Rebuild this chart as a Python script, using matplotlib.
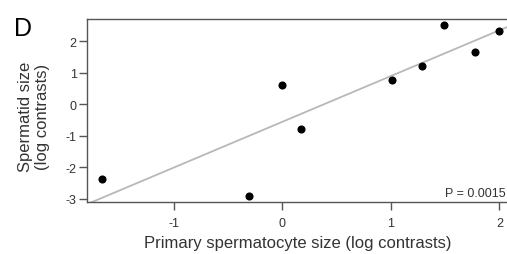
import matplotlib
matplotlib.use("Agg")
import matplotlib.pyplot as plt
import numpy as np

plt.rcParams['font.family'] = ['Liberation Sans', 'DejaVu Sans']

# Data
primary_size = [-1.66, -0.31, 0.00, 0.17, 1.01, 1.29, 1.49, 1.78, 2.00]
spermatid_size = [-2.38, -2.91, 0.60, -0.78, 0.78, 1.22, 2.52, 1.67, 2.32]
fit_slope = 1.455
fit_intercept = -0.56
x_ticks = [-1, 0, 1, 2]
y_ticks = [-3, -2, -1, 0, 1, 2]
p_text = "P = 0.0015"

W, H = 507, 255
fig = plt.figure(figsize=(W/100, H/100), dpi=100)
ax = fig.add_axes([87/W, 1-203/H, 421/W, 183/H])

xlim = (-1.80, 2.08)
ylim = (-3.11, 2.71)
ax.set_xlim(*xlim)
ax.set_ylim(*ylim)

xl = np.array(xlim)
ax.plot(xl, fit_intercept + fit_slope * xl, color='#b8b8b8', lw=1.3, zorder=1)
ax.scatter(primary_size, spermatid_size, s=34, color='black', zorder=3, linewidths=0)

ax.set_xticks(x_ticks)
ax.set_xticklabels([str(v) for v in x_ticks])
ax.set_yticks(y_ticks)
ax.set_yticklabels([str(v) for v in y_ticks])

for s in ax.spines.values():
    s.set_color('#555555')
    s.set_linewidth(1.0)
ax.tick_params(direction='out', length=6, width=1.0, color='#555555',
               labelsize=9, labelcolor='#333333')
ax.tick_params(axis='x', pad=4.5)
ax.tick_params(axis='y', pad=1.5)

ax.set_xlabel("Primary spermatocyte size (log contrasts)", fontsize=12,
              color='#333333')
ax.xaxis.label.set_va('baseline')
ax.xaxis.set_label_coords(0.5, -(248 - 203) / 183, transform=ax.transAxes)
ax.set_ylabel("Spermatid size\n(log contrasts)", fontsize=12,
              color='#333333', linespacing=1.15)
ax.yaxis.set_label_coords((50 - 87) / 421, 0.47, transform=ax.transAxes)

fig.text(506/W, 1-196.7/H, p_text, ha='right', va='baseline',
         fontsize=9, color='#333333')

fig.text(14/W, 1-36.5/H, "D", fontsize=18, va='baseline', ha='left', color='black')

fig.savefig("out.png", dpi=100)
